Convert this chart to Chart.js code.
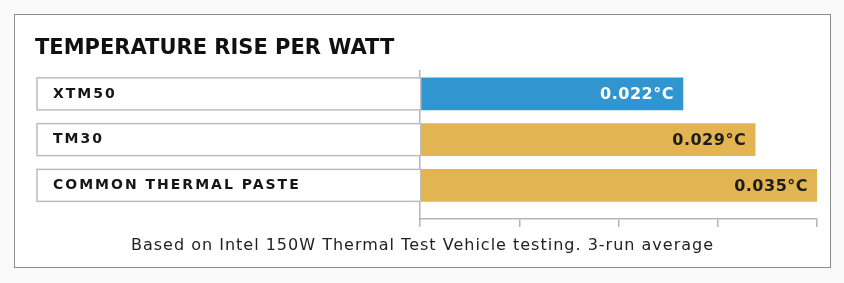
<!DOCTYPE html>
<html lang="en">
<head>
<meta charset="UTF-8" />
<title>Temperature rise per watt</title>
<script src="https://cdn.jsdelivr.net/npm/chart.js"></script>
<style>
	html, body { margin: 0; padding: 0; background: #fafafa; }
	.frame {
		position: absolute;
		left: 14px; top: 14px;
		width: 815px; height: 252px;
		border: 1px solid #8c8c8c;
		background: #fff;
	}
	.frame canvas { display: block; }
</style>
</head>
<body>
<div class="frame">
	<canvas id="myChart" width="815" height="252"></canvas>
</div>
<script>
	// chart data
	const categories = ['XTM50', 'TM30', 'COMMON THERMAL PASTE'];
	const values = [0.022, 0.029, 0.035];
	const valueLabels = ['0.022°C', '0.029°C', '0.035°C'];
	const barColors = ['#3196d0', '#e3b552', '#e3b552'];
	const labelColors = ['#ffffff', '#1c1c1c', '#1c1c1c'];
	const footnote = 'Based on Intel 150W Thermal Test Vehicle testing. 3-run average';

	// axis range (bars start at the left axis)
	const xMin = -0.0035;
	const xMax = 0.035;

	const rowBoxes = {
		id: 'rowBoxes',
		afterDatasetsDraw(chart) {
			const ctx = chart.ctx;
			const meta = chart.getDatasetMeta(0);
			const left = chart.scales.y.left + 2;
			ctx.save();
			meta.data.forEach((bar, i) => {
				const h = bar.height;
				// category box
				ctx.strokeStyle = '#bdbdbd';
				ctx.lineWidth = 1.5;
				ctx.fillStyle = '#fff';
				ctx.fillRect(left, bar.y - h / 2, bar.base - left, h);
				ctx.strokeRect(left, bar.y - h / 2, bar.base - left, h);
				// category text
				ctx.fillStyle = '#161616';
				ctx.font = 'bold 14px "DejaVu Sans"';
				ctx.letterSpacing = '2px';
				ctx.textAlign = 'left';
				ctx.textBaseline = 'middle';
				ctx.fillText(categories[i], left + 16, bar.y);
				// value text
				ctx.fillStyle = labelColors[i];
				ctx.font = 'bold 16px "DejaVu Sans"';
				ctx.letterSpacing = '0.5px';
				ctx.textAlign = 'right';
				ctx.fillText(valueLabels[i], bar.x - 9, bar.y + 1);
			});
			// footnote under the axis
			ctx.fillStyle = '#222';
			ctx.font = '16px "DejaVu Sans"';
			ctx.letterSpacing = '1px';
			ctx.textAlign = 'center';
			ctx.textBaseline = 'alphabetic';
			ctx.fillText(footnote, chart.width / 2, chart.scales.x.bottom + 23);
			ctx.restore();
		}
	};

	const config = {
		type: 'bar',
		data: {
			datasets: [
				{
					data: categories.map((c, i) => ({ x: values[i], y: i })),
					backgroundColor: barColors,
					borderWidth: 0,
					barThickness: 32,
					base: xMin,
				},
			],
		},
		options: {
			indexAxis: 'y',
			responsive: false,
			animation: false,
			layout: {
				padding: { left: 20, right: 13, top: 0, bottom: 40 },
			},
			plugins: {
				legend: { display: false },
				tooltip: { enabled: false },
				title: {
					display: true,
					text: 'TEMPERATURE RISE PER WATT',
					align: 'start',
					color: '#111',
					font: { family: 'DejaVu Sans', size: 21, weight: 'bold' },
					padding: { top: 21, bottom: 9.8 },
				},
			},
			scales: {
				x: {
					type: 'linear',
					min: xMin,
					max: xMax,
					afterBuildTicks: (scale) => {
						const step = (xMax - xMin) / 4;
						scale.ticks = [0, 1, 2, 3, 4].map((k) => ({ value: xMin + k * step }));
					},
					ticks: { display: false },
					grid: {
						drawOnChartArea: false,
						tickLength: 8,
						color: '#b5b5b5',
						lineWidth: 1.5,
					},
					border: { display: true, color: '#b5b5b5', width: 1.5 },
				},
				y: {
					type: 'linear',
					reverse: true,
					offset: false,
					min: -0.5,
					max: 2.735,
					afterFit: (scale) => {
						scale.width = 385;
					},
					ticks: { display: false },
					grid: { offset: false, drawOnChartArea: false, drawTicks: false },
					border: { display: true, color: '#b5b5b5', width: 1.5 },
				},
			},
		},
		plugins: [rowBoxes],
	};

	new Chart(document.getElementById('myChart'), config);
</script>
</body>
</html>
